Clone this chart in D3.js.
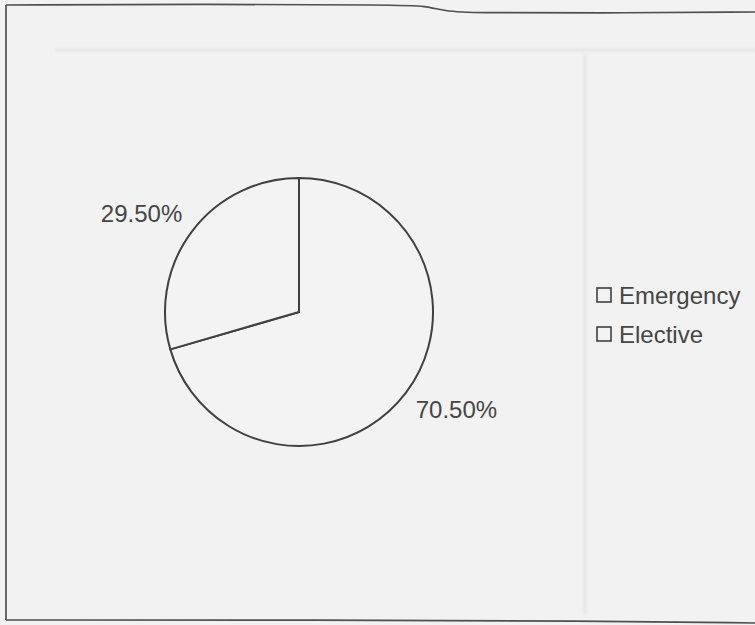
<!DOCTYPE html>
<html>
<head>
<meta charset="utf-8">
<script src="https://cdn.jsdelivr.net/npm/d3@7"></script>
<style>
  html, body { margin: 0; padding: 0; background: #f1f1f1; }
  svg { display: block; }
  text { font-family: "Liberation Sans", Arial, sans-serif; fill: #454545; }
</style>
</head>
<body>
<svg id="chart" width="755" height="625"></svg>
<script>
// Type of surgery, share of cases (%)
const categories = ["Emergency", "Elective"];
const shares = [70.5, 29.5];
const shareLabels = ["70.50%", "29.50%"];

const svg = d3.select("#chart");
const W = 755, H = 625;

// soft edge for the scanned strokes
const defs = svg.append("defs");
defs.append("filter").attr("id", "soft")
  .append("feGaussianBlur").attr("stdDeviation", 0.6);
defs.append("filter").attr("id", "haze")
  .append("feGaussianBlur").attr("stdDeviation", 1.5);

svg.append("rect").attr("width", W).attr("height", H).attr("fill", "#f2f2f2");

// faint rules of the page underneath
const under = svg.append("g").attr("filter", "url(#haze)")
  .attr("stroke", "#d8d8d8").attr("stroke-width", 1.5).attr("fill", "none");
under.append("path").attr("d", d3.line()([[55, 50], [755, 50]]));
under.append("path").attr("d", d3.line()([[585, 55], [585, 615]]));

// page frame
const frame = svg.append("g").attr("filter", "url(#soft)")
  .attr("fill", "none").attr("stroke", "#505050").attr("stroke-width", 1.7);
frame.append("path").attr("d", d3.line().curve(d3.curveBasis)([
  [6, 5], [200, 4], [400, 5], [425, 6], [445, 11], [470, 13], [600, 13], [755, 12]
]));
frame.append("path").attr("d", d3.line()([[6, 5], [6, 620]]));
frame.append("path").attr("d", d3.line().curve(d3.curveBasis)([
  [6, 620], [300, 620], [600, 621], [755, 623]
]));

// pie
const cx = 299, cy = 312, R = 134;
const pie = d3.pie().sort(null).value(d => d.value);
const data = categories.map((c, i) => ({ name: c, value: shares[i], label: shareLabels[i] }));
const arcs = pie(data);
const arc = d3.arc().innerRadius(0).outerRadius(R);

const g = svg.append("g").attr("transform", `translate(${cx},${cy})`);
g.append("g").attr("filter", "url(#soft)")
  .selectAll("path").data(arcs).join("path")
  .attr("d", arc)
  .attr("fill", "#f3f3f3")
  .attr("stroke", "#404040")
  .attr("stroke-width", 2)
  .attr("stroke-linejoin", "round");

// outside-end labels: the box corner nearest the pie sits on a ring just outside it
const labelR = R + 12;
g.selectAll("text.pct").data(arcs).join("text")
  .attr("class", "pct")
  .attr("font-size", 24)
  .each(function (d) {
    const a = (d.startAngle + d.endAngle) / 2;
    const x = labelR * Math.sin(a), y = -labelR * Math.cos(a);
    d3.select(this).attr("x", x).attr("y", y)
      .attr("text-anchor", Math.sin(a) >= 0 ? "start" : "end")
      .attr("dy", Math.cos(a) < 0 ? "0.76em" : "-0.1em")
      .text(d.data.label);
  });

// legend
const legend = svg.append("g").attr("transform", "translate(597,288)");
const item = legend.selectAll("g").data(categories).join("g")
  .attr("transform", (d, i) => `translate(0,${i * 39})`);
item.append("rect")
  .attr("width", 14).attr("height", 14)
  .attr("fill", "#f3f3f3").attr("stroke", "#404040").attr("stroke-width", 1.6);
item.append("text")
  .attr("x", 22).attr("y", 16)
  .attr("font-size", 24)
  .text(d => d);
</script>
</body>
</html>
